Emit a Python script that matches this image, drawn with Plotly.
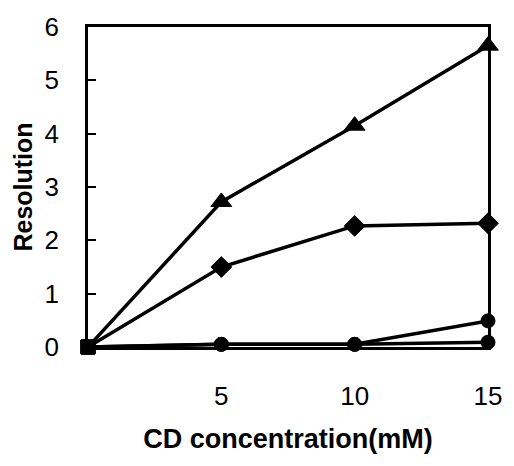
import plotly.graph_objects as go

conc = [0, 5, 10, 15]
res_triangle = [0, 2.72, 4.15, 5.65]
res_diamond = [0, 1.5, 2.27, 2.32]
res_circle_a = [0, 0.05, 0.05, 0.49]
res_circle_b = [0, 0.05, 0.05, 0.09]

x_ticks = [5, 10, 15]
y_ticks = [0, 1, 2, 3, 4, 5, 6]

fig = go.Figure()
series = [
    (res_circle_b, "circle", 14),
    (res_circle_a, "circle", 14),
    (res_diamond, "diamond", 16),
    (res_triangle, "triangle-up", 18),
]
for ys, sym, sz in series:
    syms = ["square"] + [sym] * (len(ys) - 1)
    sizes = [14] + [sz] * (len(ys) - 1)
    fig.add_trace(go.Scatter(
        x=conc, y=ys, mode="lines+markers",
        line=dict(color="black", width=3.5),
        marker=dict(symbol=syms, size=sizes, color="black", opacity=1,
                    line=dict(color="black", width=1)),
        showlegend=False, cliponaxis=False,
    ))

font = dict(family="Liberation Sans, Arial, sans-serif", color="black")
fig.update_layout(
    width=514, height=466,
    margin=dict(l=88, r=18, t=27, b=119),
    paper_bgcolor="white", plot_bgcolor="white",
    font=dict(size=26, **font),
)
fig.update_xaxes(
    range=[0, 15], tickvals=x_ticks, ticktext=[str(v) for v in x_ticks],
    showgrid=False, zeroline=False, showline=True, linecolor="black", linewidth=2.5,
    mirror=True, ticks="", ticklabelstandoff=24,
    title=dict(text="<b>CD concentration(mM)</b>", font=dict(size=27, **font), standoff=20),
)
fig.update_yaxes(
    range=[0, 6], tickvals=y_ticks, ticktext=[str(v) for v in y_ticks],
    showgrid=False, zeroline=False, showline=True, linecolor="black", linewidth=2.5,
    mirror=True, ticks="inside", ticklen=8, tickwidth=1.5, tickcolor="black",
    ticklabelstandoff=21,
    title=dict(text="<b>Resolution</b>", font=dict(size=25, **font), standoff=5),
)
fig.write_html("out.html")
